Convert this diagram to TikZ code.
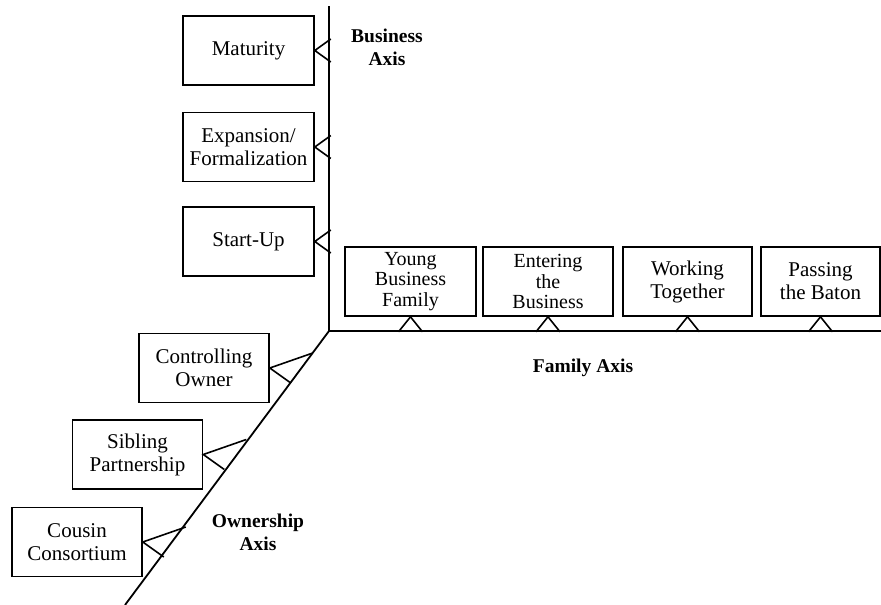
\documentclass[tikz,border=0pt]{standalone}
\usepackage{fontspec}
\setmainfont{Liberation Serif}
\usepackage{tikz}
\usetikzlibrary{positioning, calc}

\tikzset{
    stagebox/.style={draw, line width=1.6pt, rectangle, minimum width=131pt, minimum height=69pt,
        inner sep=0pt, align=center, font=\fontsize{21}{23}\selectfont},
    threeline/.style={font=\fontsize{20}{20.5}\selectfont},
    axislabel/.style={align=center, font=\fontsize{19.5}{23}\selectfont\bfseries},
    axisline/.style={line width=1.8pt},
    tri/.style={line width=1.6pt}
}

\begin{document}
\begin{tikzpicture}[x=1pt, y=-1pt]
    \useasboundingbox (0,0) rectangle (881,605);

    % === AXES ===
    \coordinate (origin) at (329,331);
    \coordinate (btop) at (329,6);
    \coordinate (fend) at (881,331);
    \coordinate (oend) at (125,605);
    \draw[axisline] (btop) -- (origin) -- (fend);
    \draw[axisline] (origin) -- (oend);

    % === BUSINESS AXIS ===
    \node[axislabel] (blabel) at (387,47) {Business\\Axis};
    \node[stagebox] (mat) at (248.5,50.5) {Maturity};
    \node[stagebox] (exp) at (248.5,147) {Expansion/\\Formalization};
    \node[stagebox] (start) at (248.5,241.5) {Start-Up};

    \draw[tri] ($(mat.east)+(16,-11.5)$) -- (mat.east) -- ($(mat.east)+(16,11.5)$);
    \draw[tri] ($(exp.east)+(16,-11.5)$) -- (exp.east) -- ($(exp.east)+(16,11.5)$);
    \draw[tri] ($(start.east)+(16,-11.5)$) -- (start.east) -- ($(start.east)+(16,11.5)$);

    % === FAMILY AXIS ===
    \node[axislabel] (flabel) at (583,368) {Family Axis};
    \node[stagebox, threeline] (young) at (410.5,281.5) {Young\\Business\\Family};
    \node[stagebox, threeline, minimum width=130pt] (enter) at (548,281.5) {Entering\\the\\Business};
    \node[stagebox, minimum width=129pt] (work) at (687.5,281.5) {Working\\Together};
    \node[stagebox, minimum width=119pt] (pass) at (820.5,281.5) {Passing\\the Baton};

    \draw[tri] ($(young.south)+(-12,15)$) -- (young.south) -- ($(young.south)+(12,15)$);
    \draw[tri] ($(enter.south)+(-12,15)$) -- (enter.south) -- ($(enter.south)+(12,15)$);
    \draw[tri] ($(work.south)+(-12,15)$) -- (work.south) -- ($(work.south)+(12,15)$);
    \draw[tri] ($(pass.south)+(-12,15)$) -- (pass.south) -- ($(pass.south)+(12,15)$);

    % === OWNERSHIP AXIS ===
    \node[axislabel] (olabel) at (258,532) {Ownership\\Axis};
    \node[stagebox, minimum width=130pt] (ctrl) at (204,368) {Controlling\\Owner};
    \node[stagebox, minimum width=130pt] (sib) at (137.5,454.5) {Sibling\\Partnership};
    \node[stagebox, minimum width=130pt] (cous) at (77,542) {Cousin\\Consortium};

    \draw[tri] ($(ctrl.east)+(43,-15)$) -- (ctrl.east) -- ($(ctrl.east)+(21,15)$);
    \draw[tri] ($(sib.east)+(43,-15)$) -- (sib.east) -- ($(sib.east)+(21,15)$);
    \draw[tri] ($(cous.east)+(43,-15)$) -- (cous.east) -- ($(cous.east)+(21,15)$);

\end{tikzpicture}
\end{document}
